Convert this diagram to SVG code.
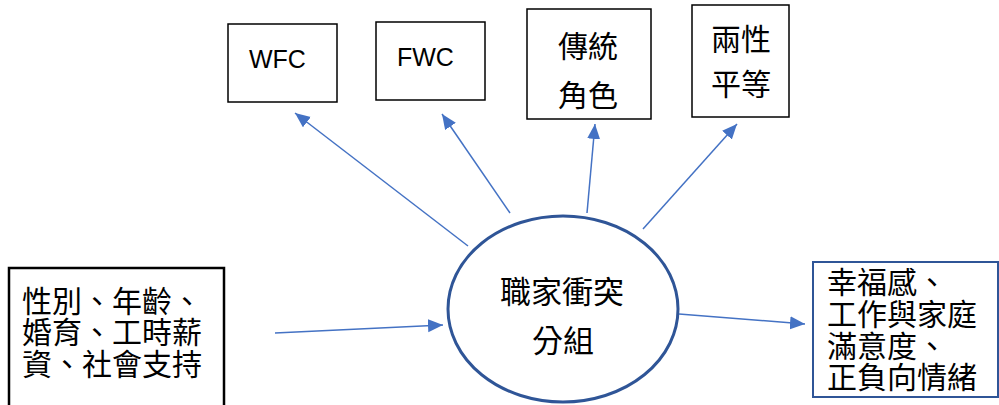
<svg xmlns="http://www.w3.org/2000/svg" width="999" height="405" viewBox="0 0 999 405">
<style>
.box{fill:#fff;stroke:#000;stroke-width:1.5}
.cjk{font-family:"Liberation Sans","Noto Sans CJK TC",sans-serif;font-size:30px;fill:#000}
.lat{font-family:"Liberation Sans",sans-serif;font-size:25px;fill:#000}
.conn{stroke:#4472C4;stroke-width:1.5;fill:none;marker-end:url(#ah)}
</style>
<defs>
<marker id="ah" markerUnits="userSpaceOnUse" markerWidth="16" markerHeight="14" refX="15" refY="6.5" orient="auto">
<path d="M0,0 L15,6.5 L0,13 z" fill="#4472C4"/>
</marker>
</defs>
<rect width="999" height="405" fill="#fff"/>
<g id="wfc"><rect class="box" x="228" y="24" width="109" height="78"/><text class="lat" x="249" y="68">WFC</text></g>
<g id="fwc"><rect class="box" x="376" y="22" width="109" height="78"/><text class="lat" x="397" y="66">FWC</text></g>
<g id="role"><rect class="box" x="527" y="9" width="124" height="110"/><text class="cjk" x="558" y="57">傳統</text><text class="cjk" x="558" y="106">角色</text></g>
<g id="gender"><rect class="box" x="692" y="5" width="97" height="112"/><text class="cjk" x="711" y="50">兩性</text><text class="cjk" x="711" y="95">平等</text></g>
<g id="input"><rect x="9" y="268" width="215" height="150" fill="#fff" stroke="#000" stroke-width="2.5"/>
<text class="cjk" x="22" y="312">性別、年齡、</text><text class="cjk" x="22" y="343">婚育、工時薪</text><text class="cjk" x="22" y="375">資、社會支持</text></g>
<g id="center"><ellipse cx="563" cy="309" rx="115" ry="93" fill="#fff" stroke="#2F5597" stroke-width="3"/>
<text class="cjk" x="500" y="303" style="font-size:31px">職家衝突</text><text class="cjk" x="532" y="352" style="font-size:31px">分組</text></g>
<g id="output"><rect x="813" y="262" width="185" height="135" fill="#fff" stroke="#2F5597" stroke-width="2"/>
<text class="cjk" x="827" y="293">幸福感、</text><text class="cjk" x="827" y="325">工作與家庭</text><text class="cjk" x="827" y="357">滿意度、</text><text class="cjk" x="827" y="388">正負向情緒</text></g>
<g id="connectors">
<line class="conn" x1="468" y1="246" x2="295" y2="113"/>
<line class="conn" x1="510" y1="213" x2="442" y2="114"/>
<line class="conn" x1="587" y1="213" x2="595" y2="124"/>
<line class="conn" x1="643" y1="229" x2="737" y2="124"/>
<line class="conn" x1="275" y1="333" x2="443" y2="325"/>
<line class="conn" x1="679" y1="314" x2="805" y2="324"/>
</g>
</svg>
